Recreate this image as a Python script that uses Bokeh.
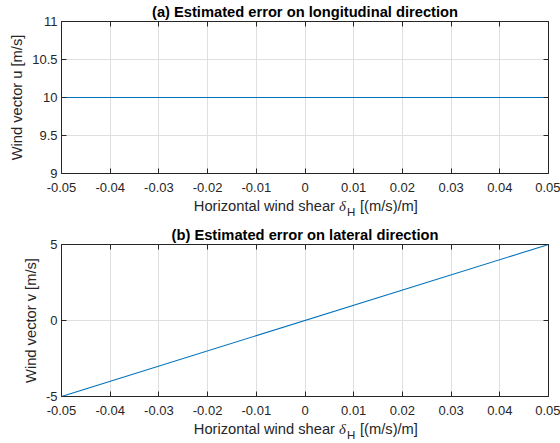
from bokeh.plotting import figure
from bokeh.layouts import column
from bokeh.models import (Range1d, FixedTicker, LinearAxis, Label,
                          CustomLabelingPolicy)
from bokeh.embed import file_html
from bokeh.resources import INLINE

# Horizontal wind shear (x) and the estimated wind-vector components
shear = [-0.05, 0.05]
wind_u = [10.0, 10.0]
wind_v = [-5.0, 5.0]

x_ticks = [-0.05, -0.04, -0.03, -0.02, -0.01, 0.0, 0.01, 0.02, 0.03, 0.04, 0.05]
x_tick_labels = ["-0.05", "-0.04", "-0.03", "-0.02", "-0.01", "0",
                 "0.01", "0.02", "0.03", "0.04", "0.05"]
u_ticks = [9.0, 9.5, 10.0, 10.5, 11.0]
u_tick_labels = ["9", "9.5", "10", "10.5", "11"]
v_ticks = [-5.0, 0.0, 5.0]
v_tick_labels = ["-5", "0", "5"]

titles = ["(a) Estimated error on longitudinal direction",
          "(b) Estimated error on lateral direction"]
y_labels = ["Wind vector u [m/s]", "Wind vector v [m/s]"]
x_label_parts = ["Horizontal wind shear", "\u03b4", "H", "[(m/s)/m]"]

W = 560
LEFT, RIGHT = 61, 12
FONT = "Liberation Sans"
AX = "#262626"
GRID = "#dfdfdf"
LINE = "#0072BD"
LABEL_SIZE = "14.7px"

# the top / right box axes carry ticks only
NO_LABELS = CustomLabelingPolicy(code="""
try { for (const i of Array.from(indices.ones())) indices.unset(i) } catch (e) {}
return indices
""")


def panel(x, y, y_ticks, y_tick_labels, title, ylabel, height, bottom):
    x_range = Range1d(x_ticks[0], x_ticks[-1])
    y_range = Range1d(y_ticks[0], y_ticks[-1])
    p = figure(width=W, height=height, x_range=x_range, y_range=y_range,
               output_backend="svg", toolbar_location=None,
               min_border_left=LEFT, min_border_right=RIGHT,
               min_border_top=20, min_border_bottom=bottom)
    p.outline_line_color = None
    p.background_fill_color = "white"
    p.border_fill_color = "white"

    p.line(x, y, line_color=LINE, line_width=1.1)

    xt = FixedTicker(ticks=x_ticks, minor_ticks=[])
    yt = FixedTicker(ticks=y_ticks, minor_ticks=[])

    xa, ya = p.xaxis[0], p.yaxis[0]
    xa.ticker = xt
    ya.ticker = yt
    xa.major_label_overrides = dict(zip(x_ticks, x_tick_labels))
    ya.major_label_overrides = dict(zip(y_ticks, y_tick_labels))
    ya.axis_label = ylabel
    ya.axis_label_text_font = FONT
    ya.axis_label_text_font_size = LABEL_SIZE
    ya.axis_label_text_font_style = "normal"
    ya.axis_label_text_color = AX
    ya.axis_label_standoff = 4

    for ax in (xa, ya):
        ax.major_tick_in = 5
        ax.major_tick_out = 0
        ax.minor_tick_in = 0
        ax.minor_tick_out = 0
        ax.axis_line_color = AX
        ax.major_tick_line_color = AX
        ax.major_label_text_font = FONT
        ax.major_label_text_font_size = "13px"
        ax.major_label_text_color = AX
    xa.major_label_standoff = 9
    ya.major_label_standoff = 4

    # box axes on the top and right; the top one holds the panel title
    for loc, ticks in (("above", x_ticks), ("right", y_ticks)):
        a = LinearAxis(ticker=FixedTicker(ticks=ticks, minor_ticks=[]),
                       major_tick_in=5, major_tick_out=0,
                       minor_tick_in=0, minor_tick_out=0,
                       axis_line_color=AX, major_tick_line_color=AX,
                       major_label_text_font_size="0px",
                       major_label_standoff=0,
                       major_label_policy=NO_LABELS)
        if loc == "above":
            a.axis_label = title
            a.axis_label_text_font = FONT
            a.axis_label_text_font_size = LABEL_SIZE
            a.axis_label_text_font_style = "bold"
            a.axis_label_text_color = "black"
            a.axis_label_standoff = 2
        p.add_layout(a, loc)

    p.xgrid.ticker = xt
    p.ygrid.ticker = yt
    p.xgrid.grid_line_color = GRID
    p.ygrid.grid_line_color = GRID
    return p


def xlabel_band(height, baseline):
    # text band under a panel; x follows the panel's axis, y is in pixels
    # measured downwards from the band's top edge
    s = figure(width=W, height=height,
               x_range=Range1d(x_ticks[0], x_ticks[-1]),
               y_range=Range1d(height, 0), x_axis_type=None, y_axis_type=None,
               output_backend="svg", toolbar_location=None,
               min_border_left=LEFT, min_border_right=RIGHT,
               min_border_top=0, min_border_bottom=0)
    s.outline_line_color = None
    s.background_fill_color = "white"
    s.border_fill_color = "white"

    xc = (x_ticks[0] + x_ticks[-1]) / 2
    y_main = baseline - 5.1   # label anchor sits ~half a cap height above baseline
    y_sub = baseline + 4.5 - 4.0
    common = dict(x=xc, text_baseline="alphabetic", text_color=AX)
    s.add_layout(Label(y=y_main, x_offset=30, text=x_label_parts[0],
                       text_align="right", text_font=FONT,
                       text_font_size=LABEL_SIZE, **common))
    s.add_layout(Label(y=y_main, x_offset=34, text=x_label_parts[1],
                       text_align="left", text_font="Liberation Serif",
                       text_font_style="italic", text_font_size=LABEL_SIZE,
                       **common))
    s.add_layout(Label(y=y_sub, x_offset=42, text=x_label_parts[2],
                       text_align="left", text_font=FONT,
                       text_font_size="11.5px", **common))
    s.add_layout(Label(y=y_main, x_offset=55, text=x_label_parts[3],
                       text_align="left", text_font=FONT,
                       text_font_size=LABEL_SIZE, **common))
    return s


p1 = panel(shear, wind_u, u_ticks, u_tick_labels, titles[0], y_labels[0], 198, 25)
band1 = xlabel_band(25, 12.5)
p2 = panel(shear, wind_v, v_ticks, v_tick_labels, titles[1], y_labels[1], 198, 25)
band2 = xlabel_band(22, 12.5)

layout = column(p1, band1, p2, band2, spacing=0)
open("out.html", "w").write(file_html(layout, INLINE))
